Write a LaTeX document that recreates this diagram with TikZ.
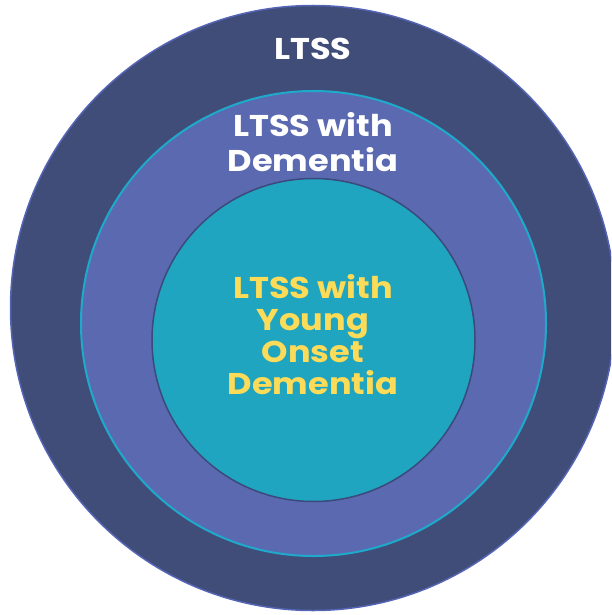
\documentclass[tikz,border=0pt]{standalone}
\usepackage{fontspec}
\setmainfont{Poppins}[FakeStretch=1.12]
\definecolor{outerfill}{HTML}{414D79}
\definecolor{outerline}{HTML}{5565B5}
\definecolor{midfill}{HTML}{5B69B1}
\definecolor{midline}{HTML}{1EAACB}
\definecolor{innerfill}{HTML}{20A5C0}
\definecolor{innerline}{HTML}{3B4A7C}
\definecolor{gold}{HTML}{FCDB58}
\tikzset{
  ring/.style={circle, inner sep=0pt, outer sep=0pt},
  whitelbl/.style={text=white, font=\fontsize{30}{35}\selectfont\bfseries, align=center, inner sep=0pt},
  goldlbl/.style={text=gold, font=\fontsize{30}{32}\selectfont\bfseries, align=center, inner sep=0pt}
}
\begin{document}
\begin{tikzpicture}[x=1pt,y=-1pt]
\useasboundingbox (0,0) rectangle (611,615);
\clip (0,0) rectangle (611,615);
\node[ring, fill=outerfill, draw=outerline, line width=1.5pt, minimum size=605pt] (outer) at (313,308) {};
\node[ring, fill=midfill, draw=midline, line width=2pt, minimum size=465pt] (mid) at (313.5,323.5) {};
\node[ring, fill=innerfill, draw=innerline, line width=1.5pt, minimum size=323pt] (inner) at (313.5,340) {};
\node[whitelbl] (t1) at (313,49) {LTSS};
\node[whitelbl] (t2) at (313,142) {LTSS with\\Dementia};
\node[goldlbl] (t3) at (313,335) {LTSS with\\Young\\Onset\\Dementia};
\end{tikzpicture}
\end{document}
